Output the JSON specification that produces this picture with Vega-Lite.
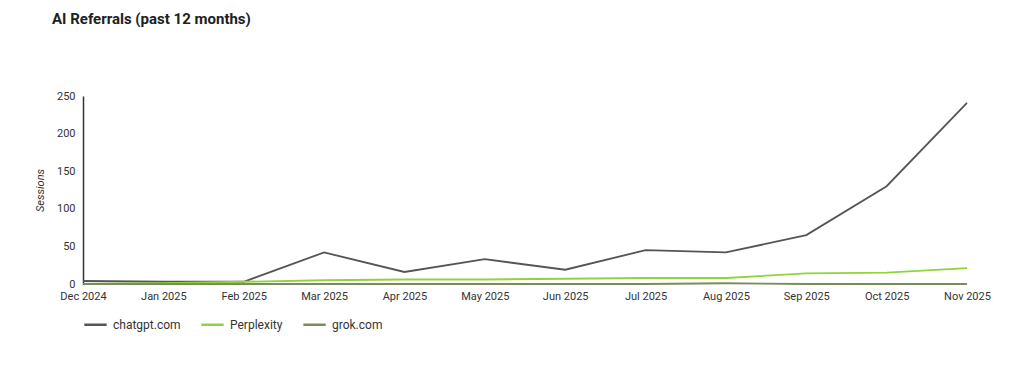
{
  "$schema": "https://vega.github.io/schema/vega-lite/v6.json",
  "autosize": {"type": "none"},
  "padding": {"left": 83, "top": 96, "right": 57, "bottom": 87},
  "width": 884,
  "height": 188,
  "background": "white",
  "title": {
    "text": "AI Referrals (past 12 months)",
    "anchor": "start",
    "frame": "group",
    "font": "Roboto",
    "fontSize": 15,
    "fontWeight": "bold",
    "color": "#202124",
    "dx": -31,
    "offset": 63
  },
  "config": {
    "view": {"stroke": null},
    "font": "Roboto"
  },
  "data": {
    "values": [
      {"month": "Dec 2024", "source": "chatgpt.com", "sessions": 4},
      {"month": "Jan 2025", "source": "chatgpt.com", "sessions": 3},
      {"month": "Feb 2025", "source": "chatgpt.com", "sessions": 3},
      {"month": "Mar 2025", "source": "chatgpt.com", "sessions": 42},
      {"month": "Apr 2025", "source": "chatgpt.com", "sessions": 16},
      {"month": "May 2025", "source": "chatgpt.com", "sessions": 33},
      {"month": "Jun 2025", "source": "chatgpt.com", "sessions": 19},
      {"month": "Jul 2025", "source": "chatgpt.com", "sessions": 45},
      {"month": "Aug 2025", "source": "chatgpt.com", "sessions": 42},
      {"month": "Sep 2025", "source": "chatgpt.com", "sessions": 65},
      {"month": "Oct 2025", "source": "chatgpt.com", "sessions": 130},
      {"month": "Nov 2025", "source": "chatgpt.com", "sessions": 241},
      {"month": "Dec 2024", "source": "Perplexity", "sessions": 0},
      {"month": "Jan 2025", "source": "Perplexity", "sessions": 1},
      {"month": "Feb 2025", "source": "Perplexity", "sessions": 3},
      {"month": "Mar 2025", "source": "Perplexity", "sessions": 5},
      {"month": "Apr 2025", "source": "Perplexity", "sessions": 6},
      {"month": "May 2025", "source": "Perplexity", "sessions": 6},
      {"month": "Jun 2025", "source": "Perplexity", "sessions": 7},
      {"month": "Jul 2025", "source": "Perplexity", "sessions": 8},
      {"month": "Aug 2025", "source": "Perplexity", "sessions": 8},
      {"month": "Sep 2025", "source": "Perplexity", "sessions": 14},
      {"month": "Oct 2025", "source": "Perplexity", "sessions": 15},
      {"month": "Nov 2025", "source": "Perplexity", "sessions": 21},
      {"month": "Dec 2024", "source": "grok.com", "sessions": 0},
      {"month": "Jan 2025", "source": "grok.com", "sessions": 0},
      {"month": "Feb 2025", "source": "grok.com", "sessions": 0},
      {"month": "Mar 2025", "source": "grok.com", "sessions": 0},
      {"month": "Apr 2025", "source": "grok.com", "sessions": 0},
      {"month": "May 2025", "source": "grok.com", "sessions": 0},
      {"month": "Jun 2025", "source": "grok.com", "sessions": 0},
      {"month": "Jul 2025", "source": "grok.com", "sessions": 0},
      {"month": "Aug 2025", "source": "grok.com", "sessions": 1},
      {"month": "Sep 2025", "source": "grok.com", "sessions": 0},
      {"month": "Oct 2025", "source": "grok.com", "sessions": 0},
      {"month": "Nov 2025", "source": "grok.com", "sessions": 0}
    ]
  },
  "mark": {"type": "line", "strokeWidth": 1.8},
  "encoding": {
    "x": {
      "field": "month",
      "type": "ordinal",
      "sort": null,
      "scale": {"type": "point", "padding": 0},
      "axis": {
        "title": null,
        "labelAngle": 0,
        "domain": false,
        "ticks": false,
        "labelFontSize": 11,
        "labelColor": "#333333",
        "labelPadding": 6
      }
    },
    "y": {
      "field": "sessions",
      "type": "quantitative",
      "scale": {"domain": [0, 250], "nice": false},
      "axis": {
        "title": "Sessions",
        "titleFontStyle": "italic",
        "titleFontWeight": "normal",
        "titleFontSize": 11,
        "titleColor": "#333333",
        "titlePadding": 11,
        "values": [0, 50, 100, 150, 200, 250],
        "grid": false,
        "ticks": false,
        "domain": true,
        "domainColor": "#333333",
        "domainWidth": 1.5,
        "labelFontSize": 11,
        "labelColor": "#333333",
        "labelPadding": 8
      }
    },
    "color": {
      "field": "source",
      "type": "nominal",
      "sort": ["chatgpt.com", "Perplexity", "grok.com"],
      "scale": {
        "domain": ["chatgpt.com", "Perplexity", "grok.com"],
        "range": ["#555555", "#8fd43a", "#7a8c5c"]
      },
      "legend": {
        "title": null,
        "orient": "none",
        "direction": "horizontal",
        "legendX": 0,
        "legendY": 216,
        "symbolType": "stroke",
        "symbolSize": 500,
        "symbolStrokeWidth": 2.5,
        "labelFontSize": 12,
        "labelColor": "#333333",
        "columnPadding": 15,
        "labelOffset": 5
      }
    }
  }
}
